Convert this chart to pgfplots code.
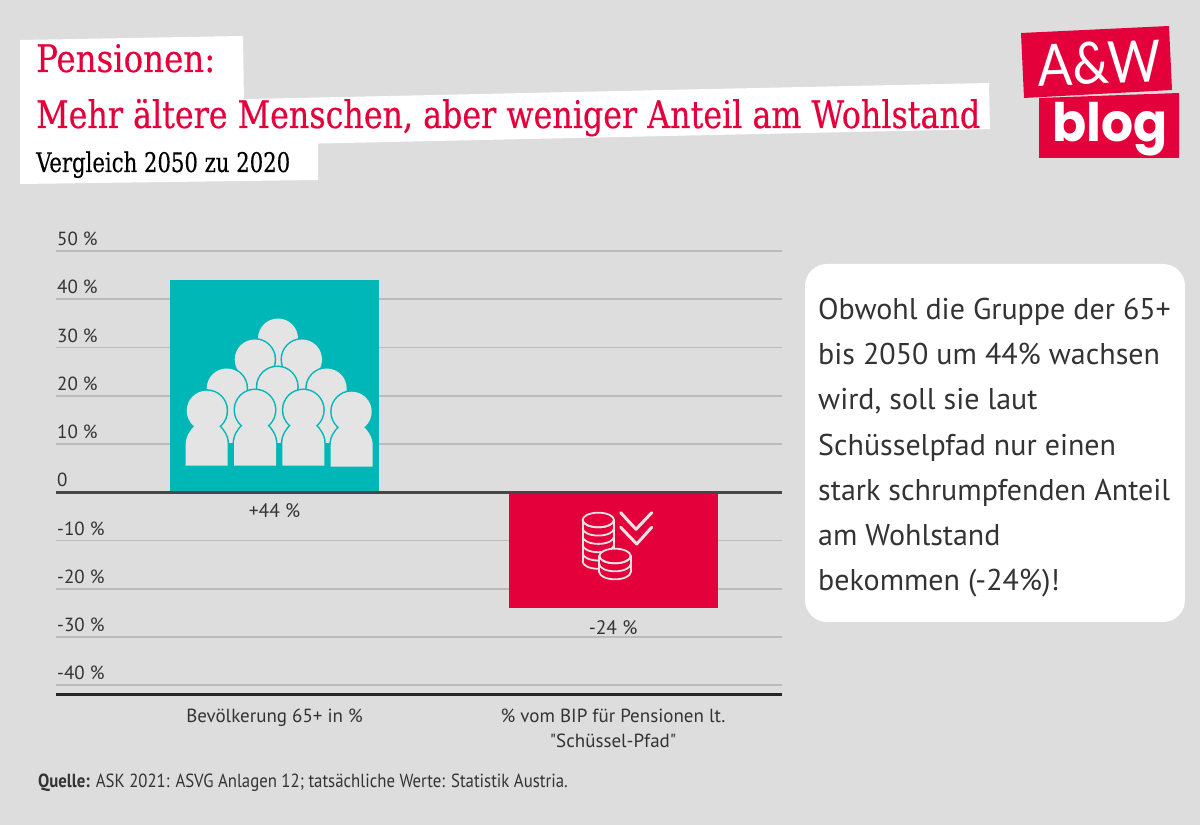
\documentclass[border=0pt]{standalone}
\usepackage{fontspec}
\usepackage{graphicx}
\usepackage{pgfplots}
\pgfplotsset{compat=1.18}
\setmainfont{PT Sans}
\newfontfamily\ptn{PT Sans}
\newfontfamily\slab{DejaVu Serif Condensed}[FakeBold=0.35]
\newfontfamily\logoa{Lato}
\newfontfamily\logob{Poppins}[BoldFont={Poppins Bold}]
\definecolor{bgc}{HTML}{DDDDDD}
\definecolor{redc}{HTML}{E4003A}
\definecolor{tealc}{HTML}{00B7B7}
\definecolor{ppl}{HTML}{E4E4E4}
\definecolor{gridc}{HTML}{BBBBBB}
\definecolor{txt}{HTML}{333333}
% one person of the icon: x, head y, bottom y
\newcommand\bodypath[3]{(#1-21,#3) -- (#1-21,#2+34) .. controls (#1-21,#2+25) and (#1-16,#2+19) .. (#1-12,#2+15) -- (#1+12,#2+15) .. controls (#1+16,#2+19) and (#1+21,#2+25) .. (#1+21,#2+34) -- (#1+21,#3) -- cycle}
\newcommand\person[3]{%
  \draw[tealc,line width=3pt] \bodypath{#1}{#2}{#3};
  \draw[tealc,line width=3pt] (#1,#2) circle[radius=20pt];
  \fill[ppl] \bodypath{#1}{#2}{#3};
  \fill[ppl] (#1,#2) circle[radius=20pt];}
\begin{document}
\begin{tikzpicture}
\fill[bgc] (0pt,0pt) rectangle (1200pt,825pt);

\begin{axis}[
  at={(56pt,130pt)}, anchor=south west,
  scale only axis, width=726pt, height=444pt,
  xmin=-0.6455, xmax=1.499, ymin=-42, ymax=50,
  clip=false,
  axis x line*=bottom, axis y line*=left,
  y axis line style={draw=none},
  x axis line style={draw=black!85,line width=3pt,-},
  major tick length=0pt,
  xtick={0,1},
  xticklabels={Bevölkerung 65+ in \%,{\% vom BIP für Pensionen lt.\\{\ptn"}Schüssel-Pfad{\ptn"}}},
  xticklabel style={font=\fontsize{19}{25}\selectfont,align=center,text=txt,yshift=-10pt},
  ytick={-40,-30,-20,-10,0,10,20,30,40,50},
  yticklabels={-40 \%,-30 \%,-20 \%,-10 \%,0,10 \%,20 \%,30 \%,40 \%,50 \%},
  yticklabel style={font=\fontsize{19}{20}\selectfont,text=txt,anchor=south west,inner xsep=0pt,inner ysep=5pt,xshift=1pt},
  ymajorgrids,
  grid style={gridc,line width=1.7pt},
]
\addplot[ybar,bar width=209pt,bar shift=0pt,fill=tealc,draw=none] coordinates {(0,44)};
\addplot[ybar,bar width=209pt,bar shift=0pt,fill=redc,draw=none] coordinates {(1,-24)};
\addplot[black!72,line width=3pt,forget plot] coordinates {(-0.6455,0) (1.499,0)};
\node[font=\fontsize{19.5}{20}\selectfont,text=txt] at (axis cs:0,-3.9) {+44 \%};
\node[font=\fontsize{19.5}{20}\selectfont,text=txt] at (axis cs:1,-28) {-24 \%};
\end{axis}

\begin{scope}[x=1pt,y=-1pt,shift={(0pt,825pt)}]
% title panels
\fill[white] (20,40) -- (243,36) -- (244,104) -- (20,104) -- cycle;
\fill[white] (20,104) -- (989,83) -- (990,129) -- (20,150) -- cycle;
\fill[white] (20,140) -- (318,138) -- (318,180) -- (20,184) -- cycle;
\node[anchor=base west,inner sep=0pt,text=redc,font=\slab\fontsize{38}{40}\selectfont] at (36,72) {\scalebox{0.95}[1]{Pensionen:}};
\node[anchor=base west,inner sep=0pt,text=redc,font=\slab\fontsize{38}{40}\selectfont] at (36,128) {\scalebox{0.928}[1]{Mehr ältere Menschen, aber weniger Anteil am Wohlstand}};
\node[anchor=base west,inner sep=0pt,text=black,font=\slab\fontsize{27}{30}\selectfont] at (36,172) {\scalebox{0.873}[1]{Vergleich 2050 zu 2020}};

% logo
\fill[redc] (1021,33) -- (1169,26) -- (1172,90) -- (1024,98) -- cycle;
\fill[redc] (1039,98) -- (1179,93) -- (1179,158) -- (1039,158) -- cycle;
\node[anchor=base,inner sep=0pt,text=white,rotate=2,font=\logoa\fontsize{58}{60}\selectfont] at (1100,84) {\scalebox{0.885}[1]{A\&W}};
\node[anchor=base,inner sep=0pt,text=white,font=\logob\bfseries\fontsize{53}{55}\selectfont] at (1110,142) {\scalebox{0.95}[1]{blog}};

% text box
\fill[white,rounded corners=22pt] (805,264) rectangle (1185,622);
\node[anchor=base west,inner sep=0pt,text=txt,font=\fontsize{30}{32}\selectfont] at (818,320) {Obwohl die Gruppe der 65+};
\node[anchor=base west,inner sep=0pt,text=txt,font=\fontsize{30}{32}\selectfont] at (818,365) {bis 2050 um 44\% wachsen};
\node[anchor=base west,inner sep=0pt,text=txt,font=\fontsize{30}{32}\selectfont] at (818,410) {wird, soll sie laut};
\node[anchor=base west,inner sep=0pt,text=txt,font=\fontsize{30}{32}\selectfont] at (818,456) {Schüsselpfad nur einen};
\node[anchor=base west,inner sep=0pt,text=txt,font=\fontsize{30}{32}\selectfont] at (818,501) {stark schrumpfenden Anteil};
\node[anchor=base west,inner sep=0pt,text=txt,font=\fontsize{30}{32}\selectfont] at (818,546) {am Wohlstand};
\node[anchor=base west,inner sep=0pt,text=txt,font=\fontsize{30}{32}\selectfont] at (818,591) {bekommen (-24\%)!};

% source
\node[anchor=base west,inner sep=0pt,text=txt,font=\fontsize{19}{20}\selectfont] at (38,788) {\scalebox{0.883}[1]{\textbf{Quelle:} ASK 2021: ASVG Anlagen 12; tatsächliche Werte: Statistik Austria.}};

% people icon
\person{278}{338.5}{400}
\person{254.7}{359.5}{420}
\person{302}{359.5}{420}
\person{226.7}{388.5}{443}
\person{277.3}{387}{443}
\person{326.7}{388.5}{443}
\person{206.7}{410.7}{465.7}
\person{255}{410}{465.7}
\person{303.3}{410}{465.7}
\person{351.7}{411.7}{466.7}

% coins icon
\begin{scope}[draw=ppl,line width=1.8pt,line cap=round,line join=round]
\draw (598.3,520) ellipse[x radius=15.7pt,y radius=7.3pt];
\draw (582.6,520) -- (582.6,561);
\draw (614,520) -- (614,552);
\foreach \y in {520,528.3,536.6,544.9,553.2,561.5}
  \draw (582.6,\y) arc[start angle=180,end angle=360,x radius=15.7pt,y radius=7.3pt];
\fill[redc] (599.3,556) -- (599.3,572) arc[start angle=180,end angle=360,x radius=15.7pt,y radius=7.3pt] -- (630.7,556) arc[start angle=0,end angle=180,x radius=15.7pt,y radius=7.3pt] -- cycle;
\draw (615,556) ellipse[x radius=15.7pt,y radius=7.3pt];
\draw (599.3,556) -- (599.3,572);
\draw (630.7,556) -- (630.7,572);
\foreach \y in {556,564,572}
  \draw (599.3,\y) arc[start angle=180,end angle=360,x radius=15.7pt,y radius=7.3pt];
\draw[line width=3pt] (620.7,512.7) -- (636,529.3) -- (651.7,512.7);
\draw[line width=3pt] (620.7,527.3) -- (636.7,544) -- (651.7,527.3);
\end{scope}
\end{scope}
\end{tikzpicture}
\end{document}
